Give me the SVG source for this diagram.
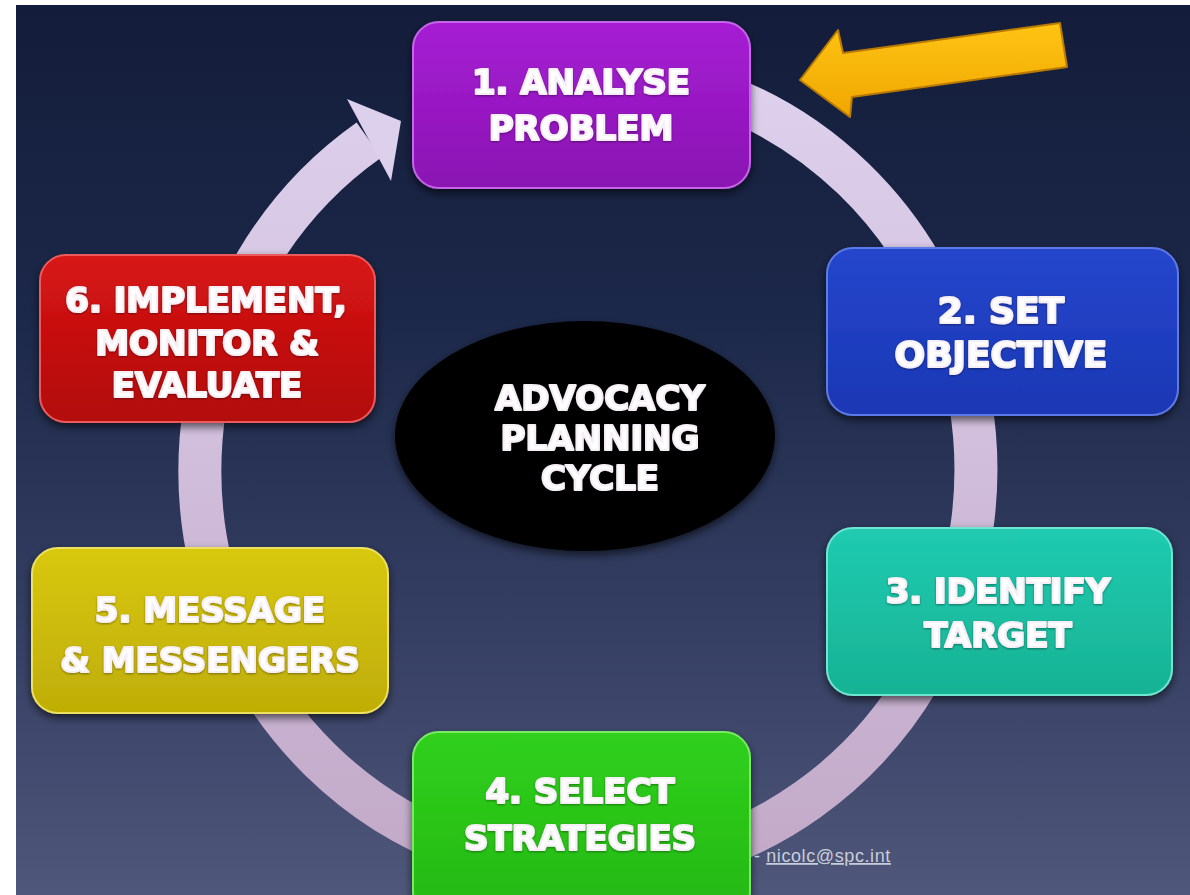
<svg xmlns="http://www.w3.org/2000/svg" width="1190" height="895" viewBox="0 0 1190 895">
<defs>
<linearGradient id="bg" x1="0" y1="0" x2="0" y2="1">
<stop offset="0" stop-color="#131c3a"/>
<stop offset="0.35" stop-color="#1c2849"/>
<stop offset="0.7" stop-color="#353f63"/>
<stop offset="1" stop-color="#4f577a"/>
</linearGradient>
<linearGradient id="ringg" x1="0" y1="0" x2="0" y2="1">
<stop offset="0" stop-color="#ddd0ec"/>
<stop offset="1" stop-color="#c2a9c8"/>
</linearGradient>
<linearGradient id="gPurple" x1="0" y1="0" x2="0" y2="1"><stop offset="0" stop-color="#a61fd4"/><stop offset="1" stop-color="#8a12b2"/></linearGradient>
<linearGradient id="gBlue" x1="0" y1="0" x2="0" y2="1"><stop offset="0" stop-color="#2546cc"/><stop offset="1" stop-color="#1a37b4"/></linearGradient>
<linearGradient id="gTeal" x1="0" y1="0" x2="0" y2="1"><stop offset="0" stop-color="#20cbb0"/><stop offset="1" stop-color="#17b294"/></linearGradient>
<linearGradient id="gGreen" x1="0" y1="0" x2="0" y2="1"><stop offset="0" stop-color="#30d01c"/><stop offset="1" stop-color="#24b814"/></linearGradient>
<linearGradient id="gYellow" x1="0" y1="0" x2="0" y2="1"><stop offset="0" stop-color="#d8c80c"/><stop offset="1" stop-color="#bfad06"/></linearGradient>
<linearGradient id="gRed" x1="0" y1="0" x2="0" y2="1"><stop offset="0" stop-color="#d81414"/><stop offset="1" stop-color="#b20c0c"/></linearGradient>
<linearGradient id="gOrange" x1="0" y1="0" x2="0" y2="1"><stop offset="0" stop-color="#ffc414"/><stop offset="1" stop-color="#f0a600"/></linearGradient>
<filter id="shadow" x="-10%" y="-10%" width="120%" height="130%">
<feDropShadow dx="0" dy="4" stdDeviation="4" flood-color="#000" flood-opacity="0.6"/>
</filter>
<filter id="tshadow" x="-10%" y="-20%" width="120%" height="150%">
<feDropShadow dx="0" dy="1" stdDeviation="1" flood-color="#000" flood-opacity="0.4"/>
</filter>
<style>
.box{stroke-width:2;filter:url(#shadow)}
.lbl{font-family:"DejaVu Sans","Liberation Sans",sans-serif;font-weight:bold;font-size:34px;fill:#ffffff;stroke:#f6f0f6;stroke-width:2.2;stroke-linejoin:round;text-anchor:middle;filter:url(#tshadow)}
.big{font-size:36px}
.mail{font-family:"Liberation Sans",Arial,sans-serif;font-size:18px;fill:#c9cddb;letter-spacing:0.6px}
</style>
</defs>

<rect x="0" y="0" width="1190" height="895" fill="#ffffff"/>
<rect x="16" y="5" width="1174" height="890" fill="url(#bg)"/>

<g id="connectors">
<path d="M 714,92 A 388 400 0 1 1 369,140" fill="none" stroke="url(#ringg)" stroke-width="43"/>
<polygon points="401,121 347,99 391,181" fill="#ddd0ec"/>
</g>

<g id="pointer">
<polygon points="800,80 838,30 843,53 1060,23 1067,67 852,97 850,117" fill="url(#gOrange)" stroke="#b87a00" stroke-width="2" stroke-linejoin="round"/>
</g>

<g id="node-center">
<ellipse cx="585" cy="436" rx="190" ry="115" fill="#000" filter="url(#shadow)"/>
<text class="lbl" x="600" y="410">ADVOCACY</text>
<text class="lbl" x="600" y="450">PLANNING</text>
<text class="lbl" x="600" y="490">CYCLE</text>
</g>

<g id="node-1">
<rect class="box" x="413" y="22" width="337" height="166" rx="26" fill="url(#gPurple)" stroke="#c665ea"/>
<text class="lbl" x="581" y="94">1. ANALYSE</text>
<text class="lbl" x="581" y="140">PROBLEM</text>
</g>

<g id="node-2">
<rect class="box" x="827" y="248" width="351" height="167" rx="26" fill="url(#gBlue)" stroke="#5c7ae8"/>
<text class="lbl big" x="1001" y="323">2. SET</text>
<text class="lbl big" x="1001" y="367">OBJECTIVE</text>
</g>

<g id="node-3">
<rect class="box" x="827" y="528" width="345" height="167" rx="26" fill="url(#gTeal)" stroke="#6ee6d2"/>
<text class="lbl" x="998" y="603">3. IDENTIFY</text>
<text class="lbl" x="998" y="647">TARGET</text>
</g>

<g id="node-4">
<rect class="box" x="413" y="732" width="337" height="185" rx="26" fill="url(#gGreen)" stroke="#78ec60"/>
<text class="lbl" x="580" y="803">4. SELECT</text>
<text class="lbl" x="580" y="850">STRATEGIES</text>
</g>

<g id="node-5">
<rect class="box" x="32" y="548" width="356" height="165" rx="26" fill="url(#gYellow)" stroke="#eee060"/>
<text class="lbl" x="210" y="622">5. MESSAGE</text>
<text class="lbl" x="210" y="672">&amp; MESSENGERS</text>
</g>

<g id="node-6">
<rect class="box" x="40" y="255" width="335" height="167" rx="26" fill="url(#gRed)" stroke="#ec5a5a"/>
<text class="lbl" x="206" y="312">6. IMPLEMENT,</text>
<text class="lbl" x="207" y="355">MONITOR &amp;</text>
<text class="lbl" x="207" y="397">EVALUATE</text>
</g>

<g id="credit">
<text class="mail" x="754" y="862">- <tspan text-decoration="underline">nicolc@spc.int</tspan></text>
</g>
</svg>
